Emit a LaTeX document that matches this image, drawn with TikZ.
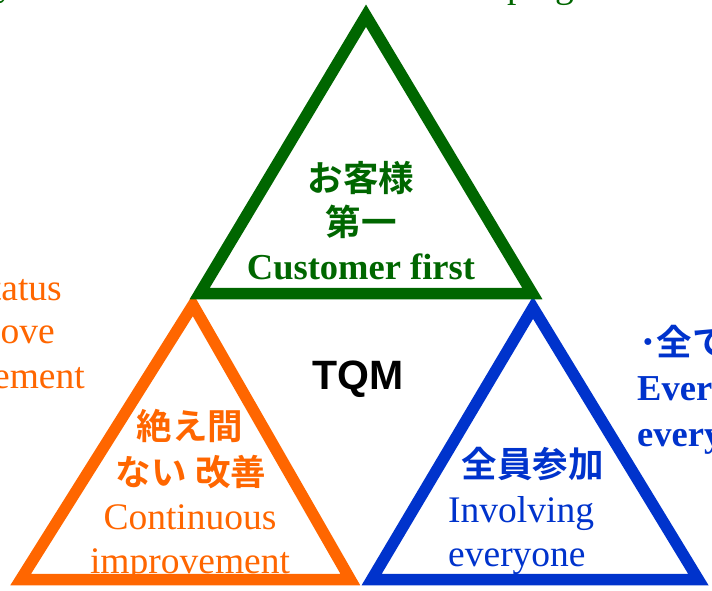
\documentclass[tikz,border=0pt]{standalone}
\usepackage{fontspec}
\setmainfont{Liberation Serif}
\setsansfont{Liberation Sans}
\newfontfamily\jpfont{Noto Sans CJK JP Bold}
\definecolor{tgreen}{RGB}{0,102,0}
\definecolor{torange}{RGB}{255,102,0}
\definecolor{tblue}{RGB}{0,51,204}
\tikzset{
  tri/.style={line width=11.5pt, line join=miter},
  jpb/.style={font=\jpfont\fontsize{35.5}{40}\selectfont, inner sep=0pt, anchor=base},
  ser/.style={font=\fontsize{37.5}{40}\selectfont, inner sep=0pt, anchor=base},
  serb/.style={font=\bfseries\fontsize{36.5}{40}\selectfont, inner sep=0pt, anchor=base},
  sansb/.style={font=\sffamily\bfseries\fontsize{41}{44}\selectfont, inner sep=0pt, anchor=base},
}
\begin{document}
\begin{tikzpicture}[x=1pt,y=-1pt]
\useasboundingbox (0,0) rectangle (712,591);
\begin{scope}
\clip (0,0) rectangle (712,591);
% partial texts at the edges
\node[ser, tgreen, anchor=base west] (t0) at (-4,-4.5) {y};
\node[ser, tgreen, anchor=base west] (t1) at (507,-2.5) {ping};
\node[ser, torange, anchor=base east] (l1) at (62,300) {tatus};
\node[ser, torange, anchor=base east] (l2) at (55,343) {nove};
\node[ser, torange, anchor=base east] (l3) at (85,388) {ement};
\node[jpb, tblue, anchor=base west] (r1) at (639,355) {･全て};
\node[serb, tblue, anchor=base west] (r2) at (637,400) {Ever};
\node[serb, tblue, anchor=base west] (r3) at (637,446) {every};
% green
\node[jpb, tgreen] (g1) at (361,191) {お客様};
\node[jpb, tgreen] (g2) at (361,235) {第一};
\node[serb, tgreen] (g3) at (361,279) {Customer first};
% centre
\node[sansb] (tqm) at (358,389) {TQM};
% orange
\node[jpb, torange] (o1) at (190,439) {絶え間};
\node[jpb, torange] (o2) at (191,485) {ない 改善};
\node[ser, torange] (o3) at (190,529) {Continuous};
\node[ser, torange] (o4) at (190,573) {improvement};
% blue
\node[jpb, tblue] (b1) at (532.5,477) {全員参加};
\node[ser, tblue, anchor=base west] (b2) at (448,522) {Involving};
\node[ser, tblue, anchor=base west] (b3) at (448,566) {everyone};
% triangles
\coordinate (oA) at (193,305);
\coordinate (oL) at (20.7,579.5);
\coordinate (oR) at (350.3,579.5);
\coordinate (bA) at (533,307.7);
\coordinate (bL) at (371.7,579.5);
\coordinate (bR) at (698.3,579.5);
\coordinate (gA) at (366,15.7);
\coordinate (gL) at (199.7,293.5);
\coordinate (gR) at (532.3,293.5);
\draw[tri, torange] (oA) -- (oL) -- (oR) -- cycle;
\draw[tri, tblue] (bA) -- (bL) -- (bR) -- cycle;
\draw[tri, tgreen] (gA) -- (gL) -- (gR) -- cycle;
\end{scope}
\end{tikzpicture}
\end{document}
